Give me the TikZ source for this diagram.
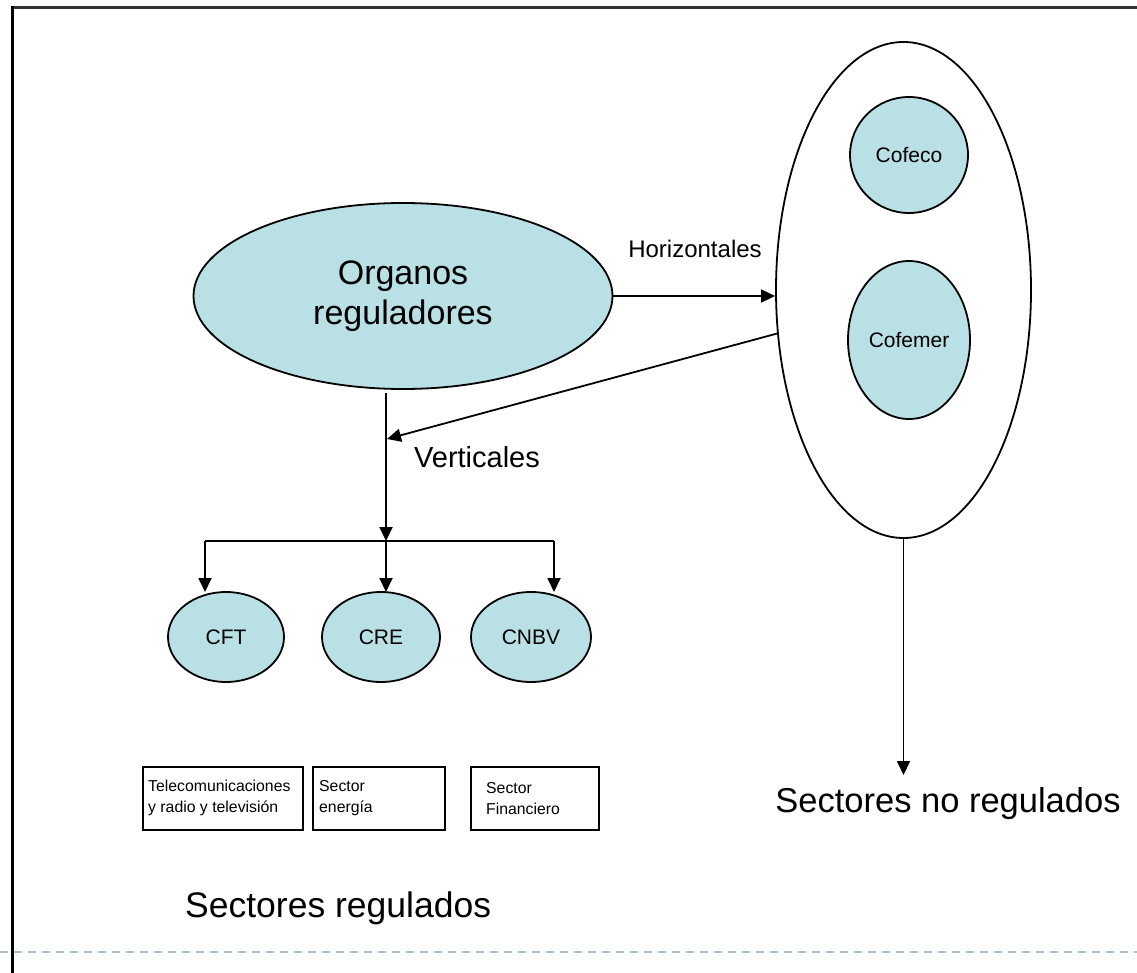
\documentclass[tikz,border=0pt]{standalone}
\usepackage{fontspec}
\setmainfont{Liberation Sans}
\usetikzlibrary{shapes.geometric,arrows.meta,calc}
\definecolor{tealfill}{RGB}{185,224,228}
\definecolor{dashblue}{RGB}{168,192,212}
\begin{document}
\begin{tikzpicture}[x=1pt,y=-1pt,
  oval/.style={ellipse,draw=black,line width=1.8pt,fill=tealfill,inner sep=0pt},
  conn/.style={line width=1.8pt},
  arr/.style={conn,-{Triangle[length=14pt,width=13pt]}},
  boxnode/.style={draw,line width=1.5pt,rectangle,inner sep=0pt,minimum height=63pt},
  boxtext/.style={anchor=west,align=left,inner sep=0pt,font=\fontsize{15.8}{21}\selectfont},
  lbl/.style={inner sep=0pt}
]
\useasboundingbox (0,0) rectangle (1137,973);
% frame
\draw[line width=2.8pt, black!80] (12,7.5) -- (1137,7.5);
\draw[line width=2.6pt] (12.5,6) -- (12.5,973);
\draw[dashblue, line width=2pt, dash pattern=on 8pt off 6pt] (0,952) -- (1137,952);
% nodes
\node[oval, minimum width=419pt, minimum height=186pt, font=\fontsize{34}{40}\selectfont, align=center] (org) at (403,296) {Organos\\reguladores};
\node[ellipse, draw, line width=1.8pt, fill=white, inner sep=0pt, minimum width=255pt, minimum height=496pt] (grp) at (903.5,290) {};
\node[oval, minimum width=118pt, minimum height=116pt, font=\fontsize{21}{25}\selectfont] (cofeco) at (909,155) {Cofeco};
\node[oval, minimum width=122pt, minimum height=158pt, font=\fontsize{21}{25}\selectfont] (cofemer) at (909,340) {Cofemer};
\node[oval, minimum width=116pt, minimum height=90pt, font=\fontsize{21}{25}\selectfont] (cft) at (226,637) {CFT};
\node[oval, minimum width=118pt, minimum height=90pt, font=\fontsize{21}{25}\selectfont] (cre) at (381,637) {CRE};
\node[oval, minimum width=120pt, minimum height=90pt, font=\fontsize{21}{25}\selectfont] (cnbv) at (531,637) {CNBV};
% boxes
\node[boxnode, minimum width=160pt, anchor=north west] (b1) at (142,766) {};
\node[boxtext] (t1) at ($(b1.west)+(6,0)$) {Telecomunicaciones\\y radio y televisión};
\node[boxnode, minimum width=132pt, anchor=north west] (b2) at (312,766) {};
\node[boxtext] (t2) at ($(b2.west)+(7,0)$) {Sector\\energía};
\node[boxnode, minimum width=128pt, anchor=north west] (b3) at (470,766) {};
\node[boxtext] (t3) at ($(b3.west)+(16,0)$) {Sector\\Financiero};
% labels
\node[lbl, font=\fontsize{24}{28}\selectfont] (lh) at (695,249) {Horizontales};
\node[lbl, font=\fontsize{29}{33}\selectfont] (lv) at (477,457) {Verticales};
\node[lbl, font=\fontsize{35.5}{40}\selectfont, anchor=west] (lsr) at (185,908) {Sectores regulados};
\node[lbl, font=\fontsize{34.5}{40}\selectfont] (lsn) at (948,804) {Sectores no regulados};
% coordinates
\coordinate (vtop) at (386,393);
\coordinate (vhit) at (387,439);
\coordinate (br) at (386,541);
\coordinate (bl) at (205,541);
\coordinate (brr) at (554,541);
\coordinate (d1) at (205,592);
\coordinate (d2) at (386,592);
\coordinate (d3) at (554,592);
\coordinate (nr) at (903.5,775);
% connectors
\draw[arr] (org.east) -- (grp.west |- org.east);
\draw[arr] (grp.199.7) -- (vhit);
\draw[arr] (vtop) -- (br);
\draw[conn] (bl) -- (brr);
\draw[arr] (bl) -- (d1);
\draw[arr] (br) -- (d2);
\draw[arr] (brr) -- (d3);
\draw[arr] (grp.south) -- (nr);
\end{tikzpicture}
\end{document}
